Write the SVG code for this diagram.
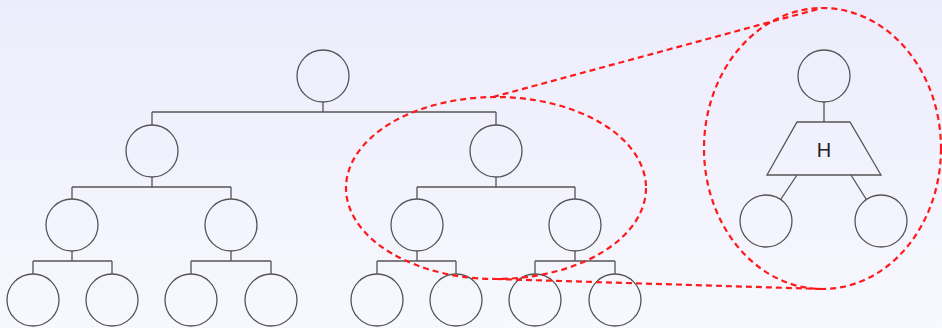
<svg xmlns="http://www.w3.org/2000/svg" width="942" height="328" viewBox="0 0 942 328">
<defs>
<linearGradient id="bg" x1="0" y1="0" x2="0" y2="1">
<stop offset="0" stop-color="#ececfc"/>
<stop offset="1" stop-color="#f8f8ff"/>
</linearGradient>
<style>
.n{fill:none;stroke:#555;stroke-width:1.3}
.e{fill:none;stroke:#555;stroke-width:1.3}
.d{fill:none;stroke:#ff1a1a;stroke-width:2.2;stroke-dasharray:6 4}
.t{font-family:"Liberation Sans",Arial,sans-serif;font-size:20px;fill:#222;text-anchor:middle}
</style>
</defs>
<rect width="942" height="328" fill="url(#bg)"/>
<g id="connectors">
<path class="e" d="M323 102V112M152 112H496M152 112V125M496 112V125"/>
<path class="e" d="M152 177V187M72 187H231M72 187V199M231 187V199"/>
<path class="e" d="M496 177V187M417 187H575M417 187V199M575 187V199"/>
<path class="e" d="M72 251V261M33 261H112M33 261V274M112 261V274"/>
<path class="e" d="M231 251V261M191 261H271M191 261V274M271 261V274"/>
<path class="e" d="M417 251V261M377 261H456M377 261V274M456 261V274"/>
<path class="e" d="M575 251V261M535 261H615M535 261V274M615 261V274"/>
<path class="e" d="M824 102V122M797 175L781 199M851 175L866 199"/>
</g>
<g id="root"><circle class="n" cx="323" cy="76" r="26"/></g>
<g id="n1"><circle class="n" cx="152" cy="151" r="26"/></g>
<g id="n2"><circle class="n" cx="496" cy="151" r="26"/></g>
<g id="n3"><circle class="n" cx="72" cy="225" r="26"/></g>
<g id="n4"><circle class="n" cx="231" cy="225" r="26"/></g>
<g id="n5"><circle class="n" cx="417" cy="225" r="26"/></g>
<g id="n6"><circle class="n" cx="575" cy="225" r="26"/></g>
<g id="n7"><circle class="n" cx="33" cy="300" r="26"/></g>
<g id="n8"><circle class="n" cx="112" cy="300" r="26"/></g>
<g id="n9"><circle class="n" cx="191" cy="300" r="26"/></g>
<g id="n10"><circle class="n" cx="271" cy="300" r="26"/></g>
<g id="n11"><circle class="n" cx="377" cy="300" r="26"/></g>
<g id="n12"><circle class="n" cx="456" cy="300" r="26"/></g>
<g id="n13"><circle class="n" cx="535" cy="300" r="26"/></g>
<g id="n14"><circle class="n" cx="615" cy="300" r="26"/></g>
<g id="zroot"><circle class="n" cx="824" cy="76" r="26"/></g>
<g id="zH"><polygon class="n" points="797,122 850,122 881,175 767,175"/><text class="t" x="824" y="157">H</text></g>
<g id="zl"><circle class="n" cx="766" cy="221" r="26"/></g>
<g id="zr"><circle class="n" cx="881" cy="221" r="26"/></g>
<g id="zoom">
<ellipse class="d" cx="496" cy="188" rx="150" ry="91"/>
<ellipse class="d" cx="822.5" cy="148.5" rx="118.5" ry="140.5"/>
<path class="d" d="M493 97L822 8M496 279L822 289"/>
</g>
</svg>
